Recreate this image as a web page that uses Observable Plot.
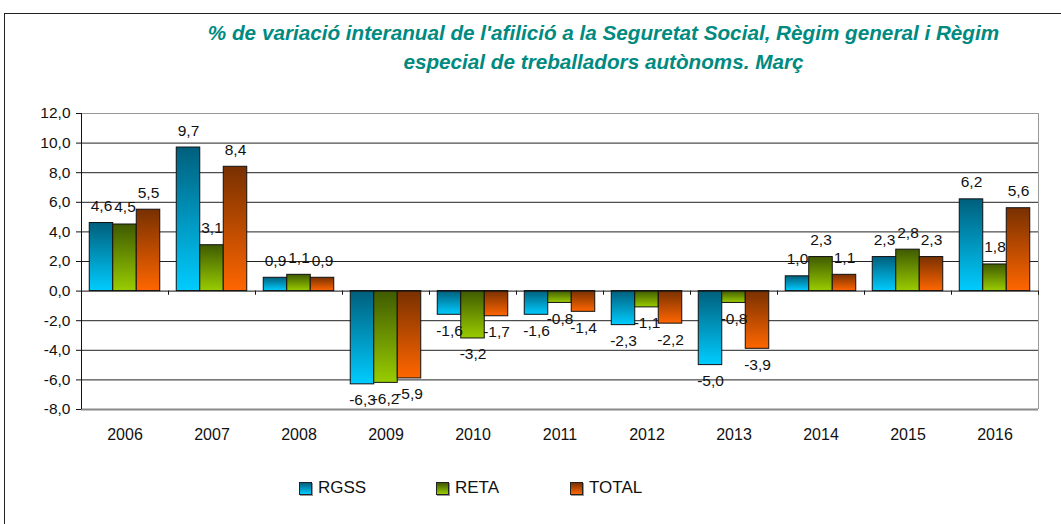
<!DOCTYPE html>
<html><head><meta charset="utf-8">
<script src="https://cdn.jsdelivr.net/npm/d3@7"></script>
<script src="https://cdn.jsdelivr.net/npm/@observablehq/plot@0.6"></script>
<style>
html,body{margin:0;padding:0;background:#fff;}
#wrap{position:relative;width:1061px;height:524px;overflow:hidden;font-family:"Liberation Sans",Arial,sans-serif;}
#frame{position:absolute;left:4px;top:13px;width:1200px;height:700px;border:1.5px solid #222;box-sizing:border-box;}
#title{position:absolute;left:0;top:18px;width:1207px;text-align:center;color:#008a80;font-weight:bold;font-style:italic;font-size:20.7px;line-height:29px;}
#chart{position:absolute;left:0;top:0;}
#legend{position:absolute;top:477px;left:0;width:1061px;height:22px;}
.item{position:absolute;top:0;height:22px;display:flex;align-items:center;font-size:17px;color:#111;}
.sw{width:11px;height:11px;border:1px solid #222;box-shadow:1px 1px 0 #999;margin-right:6px;}
</style></head>
<body>
<svg width="0" height="0" style="position:absolute">
  <defs>
    <linearGradient id="gRGSS" x1="0" y1="0" x2="0" y2="1">
      <stop offset="0" stop-color="#005f7c"/><stop offset="1" stop-color="#00ccff"/>
    </linearGradient>
    <linearGradient id="gRETA" x1="0" y1="0" x2="0" y2="1">
      <stop offset="0" stop-color="#3f5a00"/><stop offset="1" stop-color="#99cc00"/>
    </linearGradient>
    <linearGradient id="gTOTAL" x1="0" y1="0" x2="0" y2="1">
      <stop offset="0" stop-color="#783000"/><stop offset="1" stop-color="#ff6600"/>
    </linearGradient>
  </defs>
</svg>
<div id="wrap">
  <div id="frame"></div>
  <div id="title">% de variació interanual de l'afilició a la Seguretat Social, Règim general i Règim<br>especial de treballadors autònoms. Març</div>
  <div id="chart"></div>
  <div id="legend"></div>
</div>
<script>
const years = ["2006","2007","2008","2009","2010","2011","2012","2013","2014","2015","2016"];
const series = ["RGSS","RETA","TOTAL"];
const rgss  = [4.6, 9.7, 0.9, -6.3, -1.6, -1.6, -2.3, -5.0, 1.0, 2.3, 6.2];
const reta  = [4.5, 3.1, 1.1, -6.2, -3.2, -0.8, -1.1, -0.8, 2.3, 2.8, 1.8];
const total = [5.5, 8.4, 0.9, -5.9, -1.7, -1.4, -2.2, -3.9, 1.1, 2.3, 5.6];
const yTicks = [-8, -6, -4, -2, 0, 2, 4, 6, 8, 10, 12];
const gradTop = {RGSS:"#005f7c", RETA:"#3f5a00", TOTAL:"#783000"};
const gradBot = {RGSS:"#00ccff", RETA:"#99cc00", TOTAL:"#ff6600"};

const values = [rgss, reta, total];
const rows = years.flatMap((yr, i) => series.map((s, j) => ({year: yr, series: s, value: values[j][i]})));
const fmt = v => v.toFixed(1).replace(".", ",");

const pad = 8.25, barW = 23.5, half = 43.5;
const marks = [];
marks.push(Plot.ruleY(yTicks.filter(t => t > -8 && t < 12 && t !== 0), {stroke: "#222", strokeWidth: 1}));
marks.push(Plot.ruleY([12], {stroke: "#999"}));
marks.push(Plot.ruleX([years[years.length - 1]], {y1: -8, y2: 12, dx: half, stroke: "#999"}));
series.forEach((s, j) => {
  const d = rows.filter(r => r.series === s);
  marks.push(Plot.barY(d, {x: "year", y: "value", fill: `url(#g${s})`, stroke: "#111", strokeWidth: 1,
    insetLeft: pad + j * barW, insetRight: pad + (2 - j) * barW}));
});
marks.push(Plot.ruleY([0], {stroke: "#111"}));
marks.push(Plot.ruleY([-8], {stroke: "#888", strokeWidth: 2}));
marks.push(Plot.ruleX(years, {y1: 0, y2: -0.28, dx: -half, stroke: "#111"}));
marks.push(Plot.ruleX([years[years.length - 1]], {y1: 0, y2: -0.28, dx: half, stroke: "#111"}));
marks.push(Plot.ruleX([years[0]], {y1: -8, y2: 12, dx: -half, stroke: "#111"}));
series.forEach((s, j) => {
  const d = rows.filter(r => r.series === s);
  marks.push(Plot.text(d.filter(r => r.value >= 0), {x: "year", y: "value", text: r => fmt(r.value), dx: (j - 1) * barW, dy: -17, fontSize: 15.5, fill: "#111"}));
  marks.push(Plot.text(d.filter(r => r.value < 0), {x: "year", y: "value", text: r => fmt(r.value), dx: (j - 1) * barW, dy: 16, fontSize: 15.5, fill: "#111"}));
});
marks.push(Plot.text(years, {x: d => d, y: -8, text: d => d, dy: 25, fontSize: 16, fill: "#111"}));

const chart = Plot.plot({
  width: 1061, height: 455,
  marginLeft: 81, marginRight: 23, marginTop: 113, marginBottom: 46,
  style: {fontFamily: "'Liberation Sans', Arial, sans-serif", fontSize: "15.5px", color: "#111", background: "transparent"},
  x: {domain: years, padding: 0, axis: null},
  y: {domain: [-8, 12], ticks: yTicks, tickFormat: fmt, tickSize: 5, tickPadding: 6, label: null},
  marks
});
document.getElementById("chart").appendChild(chart);

const legend = document.getElementById("legend");
const legendX = [299, 436, 570];
series.forEach((s, j) => {
  const it = document.createElement("div");
  it.className = "item";
  it.style.left = legendX[j] + "px";
  const sw = document.createElement("span");
  sw.className = "sw";
  sw.style.background = `linear-gradient(to bottom, ${gradTop[s]}, ${gradBot[s]})`;
  it.appendChild(sw);
  it.appendChild(document.createTextNode(s));
  legend.appendChild(it);
});
</script>
</body></html>
